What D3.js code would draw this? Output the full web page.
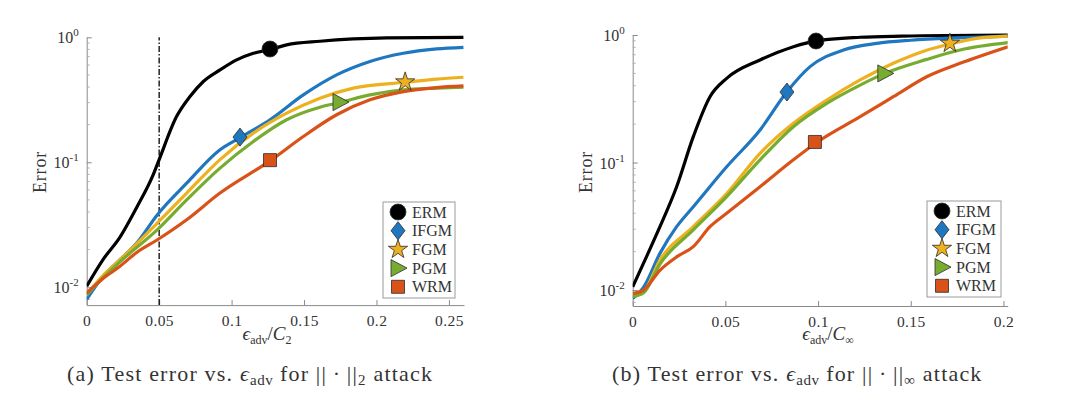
<!DOCTYPE html>
<html>
<head>
<meta charset="utf-8">
<script src="https://cdn.jsdelivr.net/npm/d3@7"></script>
<style>
  body { margin: 0; background: #fff; }
  text { font-family: "Liberation Serif", "DejaVu Serif", serif; fill: #333; }
</style>
</head>
<body>
<svg id="chart" width="1080" height="399"></svg>
<script>
// ---- data: [epsilon_adv / C, error] ----
var seriesNames = ["ERM", "IFGM", "FGM", "PGM", "WRM"];
var seriesColors = ["#000000", "#1f77c0", "#edb120", "#77ac30", "#d95319"];

// panel (a): l2 attack
var ermA = [[0,0.0102],[0.0115,0.0168],[0.023,0.0252],[0.0345,0.0435],[0.046,0.080],[0.05,0.105],[0.062,0.232],[0.0713,0.336],[0.0805,0.443],[0.092,0.548],[0.1035,0.659],[0.115,0.745],[0.127,0.80],[0.138,0.87],[0.161,0.93],[0.184,0.97],[0.207,0.99],[0.26,1.0]];
var ifgmA = [[0,0.0080],[0.0115,0.0123],[0.023,0.0166],[0.0345,0.0226],[0.0488,0.0381],[0.069,0.068],[0.092,0.126],[0.1065,0.159],[0.1265,0.219],[0.1495,0.346],[0.1725,0.50],[0.1955,0.64],[0.2185,0.745],[0.2415,0.807],[0.26,0.832]];
var fgmA = [[0,0.0087],[0.0115,0.0125],[0.023,0.0166],[0.0488,0.0327],[0.069,0.0567],[0.092,0.105],[0.115,0.171],[0.138,0.247],[0.161,0.326],[0.184,0.392],[0.22,0.437],[0.2415,0.462],[0.26,0.479]];
var pgmA = [[0,0.0087],[0.0115,0.012],[0.023,0.016],[0.0488,0.0289],[0.069,0.050],[0.092,0.0898],[0.115,0.1467],[0.138,0.219],[0.161,0.276],[0.1743,0.30],[0.1955,0.346],[0.2185,0.38],[0.2415,0.392],[0.26,0.40]];
var wrmA = [[0,0.0090],[0.0115,0.0118],[0.023,0.0147],[0.0345,0.019],[0.0488,0.024],[0.069,0.0347],[0.092,0.0567],[0.127,0.1035],[0.1495,0.1608],[0.1725,0.24],[0.1955,0.316],[0.2185,0.368],[0.2415,0.396],[0.26,0.408]];
var markersA = [[0.1265,0.806],[0.1058,0.159],[0.2198,0.439],[0.1748,0.303],[0.1265,0.104]];

// panel (b): l-infinity attack
var ermB = [[0,0.0106],[0.0058,0.0162],[0.0147,0.0314],[0.0237,0.0646],[0.0327,0.1595],[0.0417,0.328],[0.0507,0.457],[0.0687,0.637],[0.0867,0.81],[0.099,0.90],[0.1227,0.96],[0.145,0.98],[0.2025,1.0]];
var ifgmB = [[0,0.0086],[0.0058,0.0105],[0.0147,0.0194],[0.0237,0.0314],[0.0327,0.045],[0.0507,0.0926],[0.0687,0.18],[0.0833,0.36],[0.0957,0.565],[0.1137,0.763],[0.1317,0.86],[0.15,0.91],[0.175,0.95],[0.2025,0.98]];
var fgmB = [[0,0.0091],[0.0058,0.0097],[0.0147,0.0172],[0.0327,0.0314],[0.0507,0.057],[0.0687,0.118],[0.0867,0.203],[0.1047,0.309],[0.1227,0.444],[0.1406,0.60],[0.1586,0.76],[0.1712,0.85],[0.1856,0.94],[0.2025,0.98]];
var pgmB = [[0,0.0089],[0.0058,0.0095],[0.0147,0.016],[0.0327,0.0296],[0.0507,0.054],[0.0687,0.105],[0.0867,0.191],[0.1047,0.291],[0.1227,0.405],[0.136,0.50],[0.1586,0.644],[0.1766,0.763],[0.2025,0.87]];
var wrmB = [[0,0.0094],[0.0058,0.0100],[0.0147,0.0143],[0.0237,0.0182],[0.0327,0.0219],[0.0417,0.0314],[0.0507,0.04],[0.0687,0.0646],[0.0867,0.105],[0.099,0.143],[0.1227,0.229],[0.1406,0.328],[0.1586,0.471],[0.1766,0.60],[0.2025,0.81]];
var markersB = [[0.0989,0.897],[0.0832,0.357],[0.1711,0.86],[0.136,0.50],[0.0983,0.145]];

// tick labels
var xTicksA = [0, 0.05, 0.1, 0.15, 0.2, 0.25];
var xTicksB = [0, 0.05, 0.1, 0.15, 0.2];
var yTickExp = [0, -1, -2];

var svg = d3.select("#chart");

// marker shapes (matlab style)
function markerPath(i) {
  if (i == 0) return d3.symbol().type(d3.symbolCircle).size(200)();
  if (i == 1) return "M0,-9L7,0L0,9L-7,0Z";
  if (i == 2) return d3.symbol().type(d3.symbolStar).size(115)();
  if (i == 3) return "M-7,-8.5L9,0L-7,8.5Z";
  return "M-6.5,-6.5H6.5V6.5H-6.5Z";
}

function drawPanel(opt) {
  var x = d3.scaleLinear().domain(opt.xDomain).range(opt.xRange);
  var y = d3.scaleLog().domain(opt.yDomain).range(opt.yRange);
  var g = svg.append("g");
  var axisColor = "#8a8a8a";

  // clip the curves to the axes box
  g.append("clipPath").attr("id", opt.id + "clip")
    .append("rect")
      .attr("x", opt.xRange[0]).attr("y", opt.yRange[1] - 4)
      .attr("width", opt.xRange[1] - opt.xRange[0])
      .attr("height", opt.yRange[0] - opt.yRange[1] + 4);

  // x axis: ticks pointing inwards
  var xAxis = g.append("g")
    .attr("transform", "translate(0," + opt.yRange[0] + ")")
    .call(d3.axisBottom(x).tickValues(opt.xTicks).tickSizeInner(-5).tickSizeOuter(0)
      .tickPadding(10).tickFormat(function(d) { return d; }));
  xAxis.select(".domain").attr("stroke", axisColor);
  xAxis.selectAll(".tick line").attr("stroke", axisColor);
  xAxis.selectAll(".tick text").attr("font-size", 15.5).attr("fill", "#333")
    .attr("letter-spacing", 0.4);

  // y axis: log scale with minor ticks
  var minor = [];
  for (var e = -3; e < 0; e++) {
    for (var m = 2; m < 10; m++) {
      var v = m * Math.pow(10, e);
      if (v >= opt.yDomain[0] && v <= opt.yDomain[1]) minor.push(v);
    }
  }
  var yAxis = g.append("g")
    .attr("transform", "translate(" + opt.xRange[0] + ",0)")
    .call(d3.axisLeft(y).tickValues(yTickExp.map(function(d) { return Math.pow(10, d); }))
      .tickSizeInner(-5).tickSizeOuter(0).tickFormat(""));
  yAxis.select(".domain").attr("stroke", axisColor);
  yAxis.selectAll(".tick line").attr("stroke", axisColor);
  g.append("g").selectAll("line").data(minor).enter().append("line")
    .attr("x1", opt.xRange[0]).attr("x2", opt.xRange[0] + 3)
    .attr("y1", function(d) { return y(d); }).attr("y2", function(d) { return y(d); })
    .attr("stroke", "#b0b0b0");

  // y tick labels 10^k
  var yl = g.append("g").selectAll("text").data(yTickExp).enter().append("text")
    .attr("x", opt.xRange[0] - 8)
    .attr("y", function(d) { return y(Math.pow(10, d)) + 6; })
    .attr("text-anchor", "end")
    .attr("font-size", 16);
  yl.append("tspan").text("10");
  yl.append("tspan").attr("dy", -7).attr("font-size", 11).text(function(d) { return d; });

  // axis titles
  g.append("text")
    .attr("transform", "translate(" + (opt.xRange[0] - 41) + "," + 172 + ") rotate(-90)")
    .attr("text-anchor", "middle").attr("font-size", 18).attr("letter-spacing", 0.8).text("Error");

  var xl = g.append("text")
    .attr("x", opt.xLabelX).attr("y", 340)
    .attr("text-anchor", "middle").attr("font-size", 19);
  xl.append("tspan").attr("font-style", "italic").text("\u03f5");
  xl.append("tspan").attr("font-size", 12).attr("dy", 4).text("adv");
  xl.append("tspan").attr("dy", -4).text("/");
  xl.append("tspan").attr("font-style", "italic").text("C");
  xl.append("tspan").attr("font-size", 12).attr("dy", 4).text(opt.norm);

  // reference line (panel a only)
  if (opt.vline != null) {
    g.append("line")
      .attr("x1", x(opt.vline)).attr("x2", x(opt.vline))
      .attr("y1", opt.yRange[0]).attr("y2", y(1))
      .attr("stroke", "#000").attr("stroke-width", 1.3)
      .attr("stroke-dasharray", "6,2,1.5,2");
  }

  // curves
  var line = d3.line()
    .x(function(d) { return x(d[0]); })
    .y(function(d) { return y(d[1]); })
    .curve(d3.curveMonotoneX);

  g.append("g").attr("clip-path", "url(#" + opt.id + "clip)")
    .selectAll("path").data(opt.series).enter().append("path")
      .attr("d", function(d) { return line(d); })
      .attr("fill", "none")
      .attr("stroke", function(d, i) { return seriesColors[i]; })
      .attr("stroke-width", 3.2)
      .attr("stroke-linejoin", "round");

  // one marker per curve
  g.append("g").selectAll("path").data(opt.markers).enter().append("path")
    .attr("transform", function(d) { return "translate(" + x(d[0]) + "," + y(d[1]) + ")"; })
    .attr("d", function(d, i) { return markerPath(i); })
    .attr("fill", function(d, i) { return seriesColors[i]; })
    .attr("stroke", "#2b2b2b").attr("stroke-width", 0.8);

  // legend
  var lg = g.append("g").attr("transform", "translate(" + opt.legend[0] + "," + opt.legend[1] + ")");
  lg.append("rect").attr("width", opt.legend[2]).attr("height", 96)
    .attr("fill", "#fff").attr("stroke", "#9a9a9a").attr("stroke-width", 1);
  var item = lg.selectAll("g.item").data(seriesNames).enter().append("g")
    .attr("transform", function(d, i) { return "translate(0," + (10 + i * 18.7) + ")"; });
  item.append("path")
    .attr("transform", "translate(15,0)")
    .attr("d", function(d, i) { return markerPath(i); })
    .attr("fill", function(d, i) { return seriesColors[i]; })
    .attr("stroke", "#2b2b2b").attr("stroke-width", 0.8);
  item.append("text").attr("x", 29).attr("y", 5.5).attr("font-size", 16).text(function(d) { return d; });

  // caption
  var cap = svg.append("text")
    .attr("x", opt.captionX).attr("y", 381).attr("font-size", 22).attr("letter-spacing", 1.2);
  cap.append("tspan").text("(" + opt.letter + ") Test error vs. ");
  cap.append("tspan").attr("font-style", "italic").text("\u03f5");
  cap.append("tspan").attr("font-size", 15).attr("dy", 4).attr("letter-spacing", 0.5).text("adv");
  cap.append("tspan").attr("dy", -4).text(" for ||\u2009\u00b7\u2009||");
  cap.append("tspan").attr("font-size", 15).attr("dy", 4).text(opt.norm);
  cap.append("tspan").attr("dy", -4).text(" attack");
}

drawPanel({
  id: "a", letter: "a", norm: "2",
  xDomain: [0, 0.2604], xRange: [86.7, 464],
  yDomain: [0.0072, 1], yRange: [305.1, 37.3],
  xTicks: xTicksA, xLabelX: 267,
  series: [ermA, ifgmA, fgmA, pgmA, wrmA],
  markers: markersA, vline: 0.05,
  legend: [383, 202, 72], captionX: 67
});

drawPanel({
  id: "b", letter: "b", norm: "\u221e",
  xDomain: [0, 0.2023], xRange: [632.7, 1007.7],
  yDomain: [0.0075, 1], yRange: [306, 35],
  xTicks: xTicksB, xLabelX: 828,
  series: [ermB, ifgmB, fgmB, pgmB, wrmB],
  markers: markersB, vline: null,
  legend: [927, 201, 74], captionX: 612
});
</script>
</body>
</html>
